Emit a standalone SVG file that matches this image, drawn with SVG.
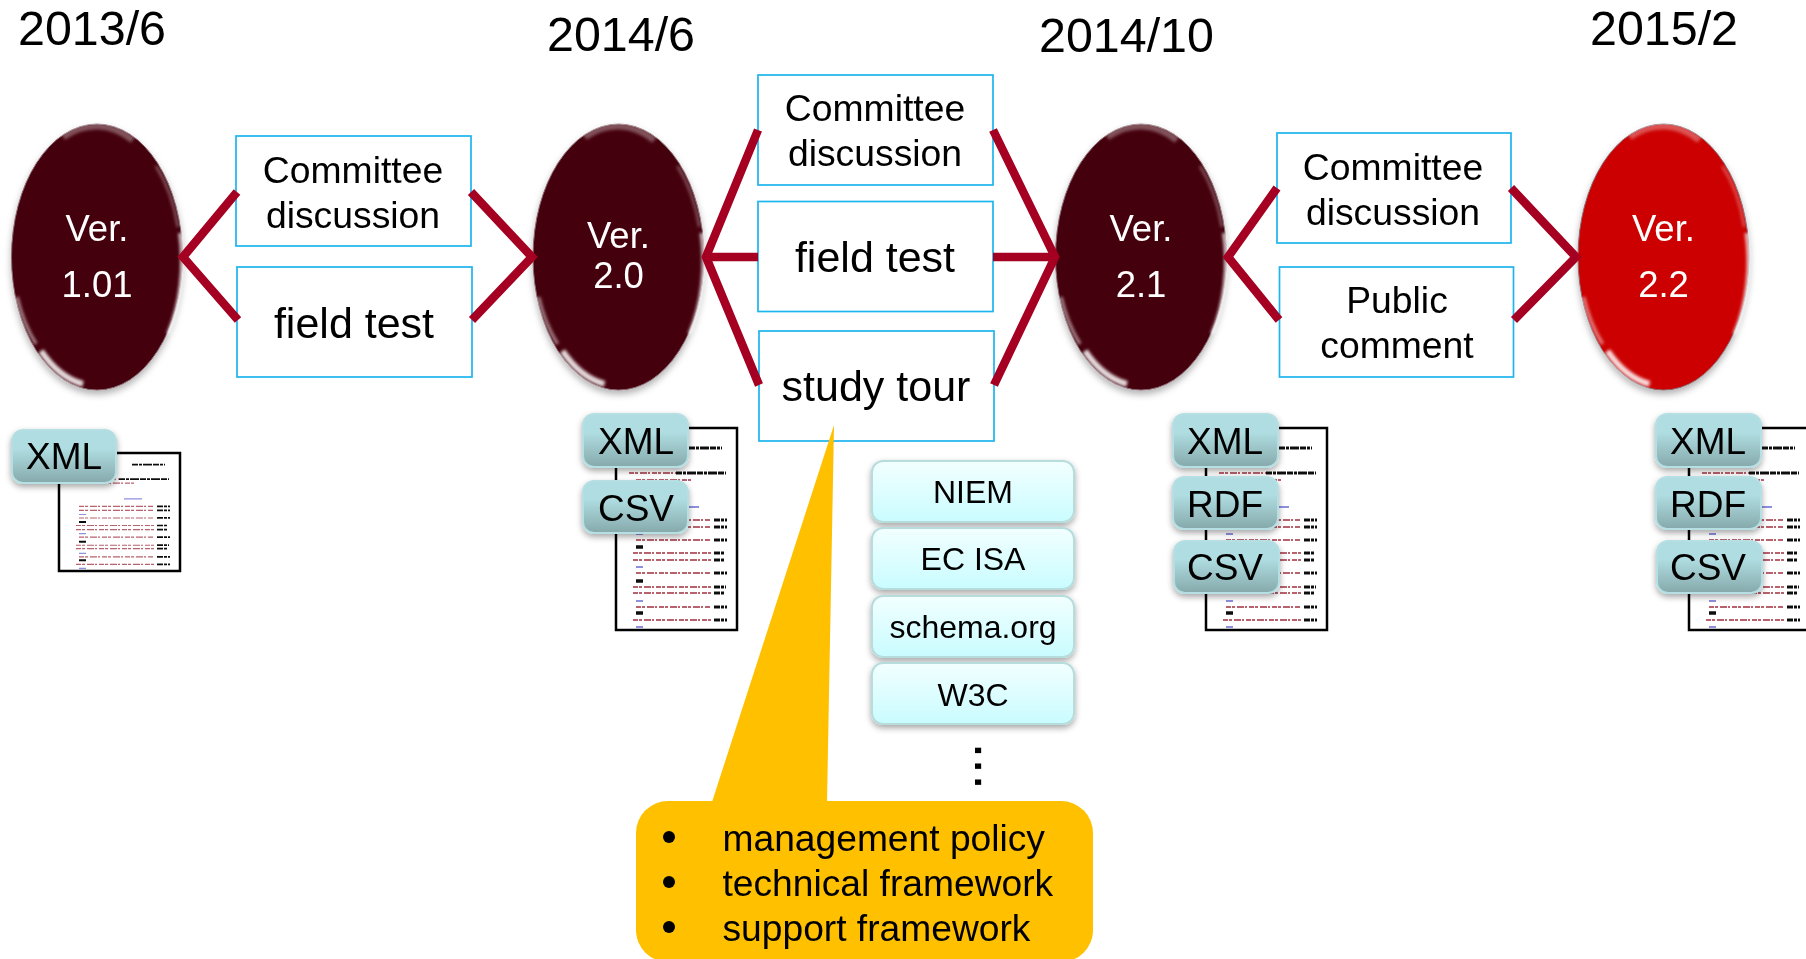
<svg xmlns="http://www.w3.org/2000/svg" xmlns:xlink="http://www.w3.org/1999/xlink" width="1806" height="959" viewBox="0 0 1806 959">
<style>
text{font-family:"Liberation Sans",Arial,sans-serif;fill:#000}
.date{font-size:48.4px}
.box rect{fill:#fff;stroke:#1cb5ee;stroke-width:1.7}
.box text{font-size:37.3px;text-anchor:middle}
.box text.big{font-size:43px}
.ver text{font-size:36.5px;text-anchor:middle;fill:#fff}
.chip rect{fill:url(#chipGrad);stroke:#b5dfe3;stroke-width:2;filter:url(#shadow)}
.chip text{font-size:37px;text-anchor:middle}
.std rect{fill:url(#stdGrad);stroke:#b7dcdc;stroke-width:2;filter:url(#shadow)}
.std text{font-size:32px;text-anchor:middle}
.conn{fill:none;stroke:#a50021;stroke-width:8.5;stroke-linejoin:miter;stroke-miterlimit:6}
.doc rect{fill:#fff;stroke:#000;stroke-width:2.5}
.call text{font-size:37.2px}
</style>
<defs>
<linearGradient id="chipGrad" x1="0" y1="0" x2="0" y2="1"><stop offset="0.35" stop-color="#afdde1"/><stop offset="1" stop-color="#86a9ab"/></linearGradient>
<linearGradient id="stdGrad" x1="0" y1="0" x2="0" y2="1"><stop offset="0" stop-color="#f2ffff"/><stop offset="1" stop-color="#c9fcff"/></linearGradient>
<filter id="shadow" x="-15%" y="-20%" width="130%" height="150%"><feDropShadow dx="0" dy="3" stdDeviation="3" flood-color="#000" flood-opacity="0.35"/></filter>
<filter id="soft" x="-20%" y="-20%" width="140%" height="140%"><feGaussianBlur stdDeviation="1.4"/></filter>
<filter id="docblur" x="-5%" y="-5%" width="110%" height="110%"><feGaussianBlur stdDeviation="0.6"/></filter>
<filter id="ballShadow" x="-20%" y="-20%" width="140%" height="140%"><feDropShadow dx="0" dy="4" stdDeviation="3.5" flood-color="#000" flood-opacity="0.3"/></filter>
<g id="gloss" fill="none" filter="url(#soft)">
<path d="M-34 -120 A82 130 0 0 1 36 -117" stroke="#fff" stroke-width="7" opacity="0.32"/>
<path d="M-56 94 A81 129 0 0 0 -14 127" stroke="#fff" stroke-width="6" opacity="0.85"/>
<path d="M-80 40 A81 129 0 0 0 -61 87" stroke="#fff" stroke-width="3.5" opacity="0.5"/>
<path d="M83 -24 A83 131 0 0 1 71 77" stroke="#fff" stroke-width="3.5" opacity="0.8"/>
<path d="M59 -91 A82 130 0 0 1 81 -30" stroke="#fff" stroke-width="3" opacity="0.3"/>
</g>
<g id="rows" filter="url(#docblur)" fill="none" stroke-width="2">
<path stroke="#111" stroke-width="3" stroke-dasharray="6 1 3 1 9 1" d="M73 20H106M60 45H110M98 92H111M98 99H111M98 112H111M98 125H109M98 132H109M98 145H111M98 159H110M98 165H109M98 179H111M98 192H111"/>
<path stroke="#111" stroke-width="3.5" d="M20 119H27M20 153H27M20 185H27"/>
<path stroke="#b8626e" stroke-dasharray="5 1 3 2 7 1 2 2" d="M13 45H60M20 52H75M20 92H95M20 99H95M20 112H95M17 125H95M17 132H95M20 145H95M17 159H95M17 165H95M20 179H95M17 192H95"/>
<path stroke="#8f8fe0" d="M65 79H83M20 106H27M20 139H27M20 173H27M20 199H27"/>
</g>
</defs>

<g id="dates">
<text class="date" x="18" y="45">2013/6</text>
<text class="date" x="547" y="51">2014/6</text>
<text class="date" x="1039" y="52">2014/10</text>
<text class="date" x="1590" y="45">2015/2</text>
</g>

<g id="ver-1-01" class="ver"><ellipse cx="97" cy="257" rx="85.5" ry="133" fill="#45000f" stroke="#8a6a72" stroke-width="1" filter="url(#ballShadow)"/><use href="#gloss" x="97" y="257"/><text x="97" y="241">Ver.</text><text x="97" y="297">1.01</text></g>
<g id="ver-2-0" class="ver"><ellipse cx="618.5" cy="257" rx="85.5" ry="133" fill="#45000f" stroke="#8a6a72" stroke-width="1" filter="url(#ballShadow)"/><use href="#gloss" x="618.5" y="257"/><text x="618.5" y="248">Ver.</text><text x="618.5" y="288">2.0</text></g>
<g id="ver-2-1" class="ver"><ellipse cx="1141" cy="257" rx="85.5" ry="133" fill="#45000f" stroke="#8a6a72" stroke-width="1" filter="url(#ballShadow)"/><use href="#gloss" x="1141" y="257"/><text x="1141" y="241">Ver.</text><text x="1141" y="297">2.1</text></g>
<g id="ver-2-2" class="ver"><ellipse cx="1663.5" cy="257" rx="85.5" ry="133" fill="#cc0000" stroke="#8a6a72" stroke-width="1" filter="url(#ballShadow)"/><use href="#gloss" x="1663.5" y="257"/><text x="1663.5" y="241">Ver.</text><text x="1663.5" y="297">2.2</text></g>

<g id="box-committee-1" class="box"><rect x="236" y="136" width="235" height="110"/><text x="353" y="183">Committee</text><text x="353" y="228">discussion</text></g>
<g id="box-field-1" class="box"><rect x="237" y="267" width="235" height="110"/><text class="big" x="354" y="338">field test</text></g>
<g id="box-committee-2" class="box"><rect x="758" y="75" width="235" height="110"/><text x="875" y="121">Committee</text><text x="875" y="166">discussion</text></g>
<g id="box-field-2" class="box"><rect x="758" y="201.500" width="235" height="110"/><text class="big" x="875" y="272">field test</text></g>
<g id="box-study" class="box"><rect x="759" y="331" width="235" height="110"/><text class="big" x="876" y="401">study tour</text></g>
<g id="box-committee-3" class="box"><rect x="1277" y="133" width="234" height="110"/><text x="1393" y="180">Committee</text><text x="1393" y="225">discussion</text></g>
<g id="box-public" class="box"><rect x="1279.500" y="267" width="234" height="110"/><text x="1397" y="313">Public</text><text x="1397" y="358">comment</text></g>

<g id="connectors">
<path class="conn" d="M237 192L183 257L238 320"/>
<path class="conn" d="M471 192L532 257L472 320"/>
<path class="conn" d="M758 130L706 257L759 385"/>
<path class="conn" d="M706 257H758"/>
<path class="conn" d="M993 130L1055 257L994 385"/>
<path class="conn" d="M993 257H1055"/>
<path class="conn" d="M1277 188L1228 257L1279 320"/>
<path class="conn" d="M1511 188L1576 257L1514 320"/>
</g>

<g id="doc-1" class="doc"><rect x="59" y="453" width="121" height="118"/><g transform="translate(59 453) scale(1 0.58)"><use href="#rows"/></g></g>
<g id="doc-2" class="doc"><rect x="616" y="428" width="121" height="202"/><g transform="translate(616 428)"><use href="#rows"/></g></g>
<g id="doc-3" class="doc"><rect x="1206" y="428" width="121" height="202"/><g transform="translate(1206 428)"><use href="#rows"/></g></g>
<g id="doc-4" class="doc"><rect x="1689" y="428" width="125" height="202"/><g transform="translate(1689 428)"><use href="#rows"/></g></g>

<g id="chip-xml-1" class="chip"><rect x="12" y="430" width="104" height="53" rx="11"/><text x="64" y="469">XML</text></g>
<g id="chip-xml-2" class="chip"><rect x="583" y="414" width="105" height="53" rx="11"/><text x="636" y="454">XML</text></g>
<g id="chip-csv-2" class="chip"><rect x="583" y="481" width="105" height="52" rx="11"/><text x="636" y="521">CSV</text></g>
<g id="chip-xml-3" class="chip"><rect x="1173" y="414" width="105" height="53" rx="11"/><text x="1225" y="454">XML</text></g>
<g id="chip-rdf-3" class="chip"><rect x="1173" y="477" width="105" height="52" rx="11"/><text x="1225" y="517">RDF</text></g>
<g id="chip-csv-3" class="chip"><rect x="1174" y="541" width="105" height="52" rx="11"/><text x="1225" y="580">CSV</text></g>
<g id="chip-xml-4" class="chip"><rect x="1656" y="414" width="105" height="53" rx="11"/><text x="1708" y="454">XML</text></g>
<g id="chip-rdf-4" class="chip"><rect x="1656" y="477" width="105" height="52" rx="11"/><text x="1708" y="517">RDF</text></g>
<g id="chip-csv-4" class="chip"><rect x="1657" y="541" width="105" height="52" rx="11"/><text x="1708" y="580">CSV</text></g>

<g id="std-niem" class="std"><rect x="872" y="461" width="202" height="61" rx="11"/><text x="973" y="503">NIEM</text></g>
<g id="std-ecisa" class="std"><rect x="872" y="528" width="202" height="61" rx="11"/><text x="973" y="570">EC ISA</text></g>
<g id="std-schema" class="std"><rect x="872" y="596" width="202" height="61" rx="11"/><text x="973" y="638">schema.org</text></g>
<g id="std-w3c" class="std"><rect x="872" y="663" width="202" height="61" rx="11"/><text x="973" y="706">W3C</text></g>
<text id="more" transform="translate(975 742.500) rotate(90)" x="0" y="0" style="font-size:57px">...</text>

<g id="callout" class="call">
<path d="M712 802L834 425L827 802Z" fill="#ffc000"/>
<rect x="636" y="801" width="457" height="161" rx="32" fill="#ffc000"/>
<circle cx="669" cy="837" r="6"/><circle cx="669" cy="882" r="6"/><circle cx="669" cy="927" r="6"/>
<text x="722.500" y="851">management policy</text>
<text x="722.500" y="896">technical framework</text>
<text x="722.500" y="941">support framework</text>
</g>
</svg>
